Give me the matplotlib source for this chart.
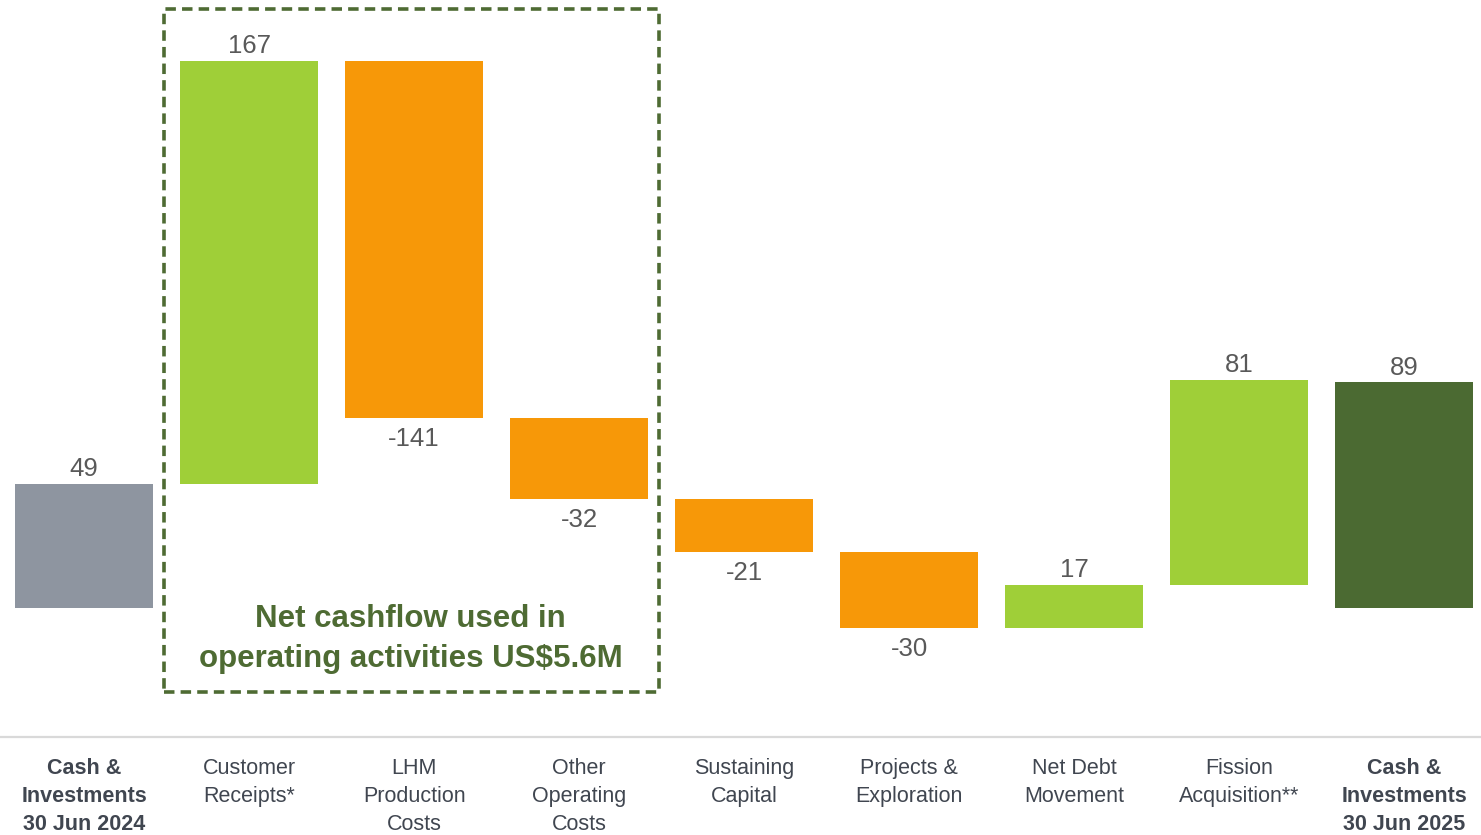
import matplotlib
matplotlib.use("Agg")
import numpy as np
import matplotlib.pyplot as plt
from matplotlib.patches import Rectangle

# waterfall data (US$M)
categories = ["Cash &\nInvestments\n30 Jun 2024", "Customer\nReceipts*", "LHM\nProduction\nCosts",
              "Other\nOperating\nCosts", "Sustaining\nCapital", "Projects &\nExploration",
              "Net Debt\nMovement", "Fission\nAcquisition**", "Cash &\nInvestments\n30 Jun 2025"]
values = [49, 167, -141, -32, -21, -30, 17, 81, 89]
kinds = ["total", "up", "down", "down", "down", "down", "up", "up", "final"]

COLORS = {"total": "#8e95a0", "up": "#9fcf38", "down": "#f79808", "final": "#4b6a32"}
GREEN_TXT = "#4e6b33"
LABEL_CLR = "#404650"
VAL_CLR = "#595959"

plt.rcParams['font.family'] = ['Liberation Sans', 'DejaVu Sans']

fig = plt.figure(figsize=(14.81, 8.35), dpi=100)
ax = fig.add_axes([0, 0.1174, 1, 0.8826])

x = np.arange(len(values))
bottoms = []
heights = []
running = 0
for v, k in zip(values, kinds):
    if k in ("total", "final"):
        bottoms.append(0)
        heights.append(v)
        running = v
    else:
        bottoms.append(running if v > 0 else running + v)
        heights.append(abs(v))
        running += v

ax.bar(x, heights, bottom=bottoms, width=0.836, color=[COLORS[k] for k in kinds], zorder=2)

# value labels
for i, (v, b, h) in enumerate(zip(values, bottoms, heights)):
    if v >= 0:
        ax.annotate(str(v), (x[i], b + h), xytext=(0, 2), textcoords="offset points",
                    ha="center", va="bottom", fontsize=18.5, color=VAL_CLR)
    else:
        ax.annotate(str(v), (x[i], b), xytext=(0, -6.5), textcoords="offset points",
                    ha="center", va="top", fontsize=18.5, color=VAL_CLR)

# dashed box round the operating items
box = Rectangle((0.485, -33.2), 3.0, 269.6, fill=False, edgecolor=GREEN_TXT, lw=2.6,
                linestyle=(0, (2.9, 1.7)), zorder=3, clip_on=False)
ax.add_patch(box)
ax.text(1.98, -12.2, "Net cashflow used in\noperating activities US$5.6M", ha="center", va="center",
        fontsize=22.5, fontweight="bold", color=GREEN_TXT, linespacing=1.45)

ax.set_xlim(-0.51, 8.466)
ax.set_ylim(-51, 240)
ax.set_yticks([])
ax.set_xticks(x)
ax.set_xticklabels(categories)
for i, lbl in enumerate(ax.get_xticklabels()):
    lbl.set_fontsize(15.5)
    lbl.set_color(LABEL_CLR)
    lbl.set_linespacing(1.42)
    if kinds[i] in ("total", "final"):
        lbl.set_fontweight("bold")
ax.tick_params(axis="x", length=0, pad=15.5)
for s in ["top", "left", "right"]:
    ax.spines[s].set_visible(False)
ax.spines["bottom"].set_color("#d9d9d9")
ax.spines["bottom"].set_linewidth(1.6)

fig.savefig("out.png", dpi=100)
